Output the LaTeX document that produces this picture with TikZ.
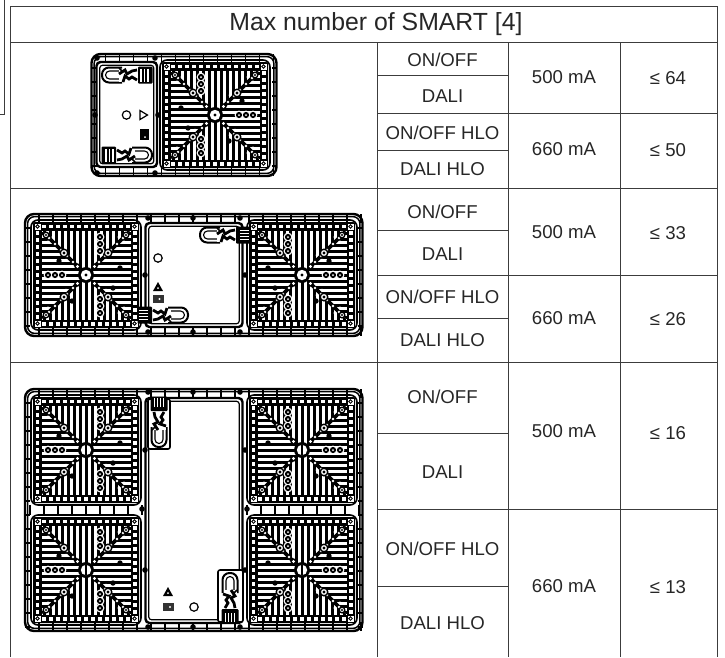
\documentclass[tikz,border=0pt]{standalone}
\usepackage{fontspec}
\setmainfont{Liberation Sans}
\definecolor{rule}{HTML}{3C3C3C}
\tikzset{
  tbl/.style={draw=rule,line width=1pt},
  cell/.style={inner sep=0pt,font=\fontsize{18.6}{20}\selectfont,text=black!85},
  pin/.style={fill=black,radius=2.8},
}
% one hatched lamp panel: centre x, centre y, mirror, hub type
\newcommand\lamppanel[4]{%
\begin{scope}[shift={(#1,#2)},xscale=#3]
  \draw[line width=1.6pt,rounded corners=7] (-55,-55) rectangle (55,55);
  \fill[black,rounded corners=2] (-53,-53) rectangle (53,53);
  \fill[white] (-44.5,-44.5) rectangle (44.5,44.5);
  \foreach \k in {-6,...,6}{
    \fill[white] (\k*7-1.7,-50.5) rectangle (\k*7+1.7,-47);
    \fill[white] (\k*7-1.7,50.5) rectangle (\k*7+1.7,47);
    \fill[white] (-50.5,\k*7-1.7) rectangle (-47,\k*7+1.7);
    \fill[white] (50.5,\k*7-1.7) rectangle (47,\k*7+1.7);
  }
  \begin{scope}
    \clip (0,0)--(-45,-45)--(45,-45)--(0,0)--(45,45)--(-45,45)--cycle;
    \foreach \k in {-7,...,7}
      \draw[line width=3pt] (\k*6,-45)--(\k*6,45);
  \end{scope}
  \begin{scope}
    \clip (0,0)--(-45,-45)--(-45,45)--(0,0)--(45,45)--(45,-45)--cycle;
    \foreach \k in {-7,...,7}
      \draw[line width=3pt] (-45,\k*6)--(45,\k*6);
  \end{scope}
  \foreach \sx in {-1,1}\foreach \sy in {-1,1}{
    \draw[line width=3.6pt] (\sx*8,\sy*8)--(\sx*42,\sy*42);
    \foreach \d in {13,19,...,38}{
      \fill[white] (\sx*\d,\sy*\d) circle (1.3);
    }
    \fill[white] (\sx*33,\sy*38) circle (1.6);
    \fill[white] (\sx*38,\sy*33) circle (1.6);
    \fill[white] (\sx*15,\sy*20) circle (1.5);
    \fill[white] (\sx*20,\sy*15) circle (1.5);
    \fill[black] (\sx*8.5,\sy*8.5) circle (3.2);
    \fill[white] (\sx*8.5,\sy*8.5) circle (1.6);
    \filldraw[fill=white,line width=1.4pt] (\sx*22,\sy*22) circle (3.8);
    \fill[black] (\sx*22,\sy*22) circle (1.7);
    \filldraw[fill=white,line width=1.3pt] (\sx*40,\sy*40) circle (2.8);
    \fill[black] (\sx*40,\sy*40) circle (1.1);
    \filldraw[fill=white,line width=1pt] (\sx*45,\sy*45) rectangle (\sx*52,\sy*52);
    \draw[line width=.8pt] (\sx*48.5,\sy*48.5) circle (1.8);
  }
  \foreach \d in {24,31,38}{
    \fill[white] (14,-\d) circle (4.4); \fill[white] (14,\d) circle (4.4);
    \fill[white] (-\d,0) circle (4.4);
  }
  \foreach \d in {24,31,38}{
    \fill[black] (14,-\d) circle (3.1); \fill[black] (14,\d) circle (3.1);
    \fill[black] (-\d,0) circle (3.1);
    \fill[white] (14,-\d) circle (1); \fill[white] (14,\d) circle (1);
    \fill[white] (-\d,0) circle (1);
  }
  \fill[black] (-27,-14) circle (2.7); \fill[black] (-14,26) circle (2.7);
  \fill[black] (34,-7) circle (2.7);  \fill[black] (27,13) circle (2.7);
  \fill[black] (0,0) circle (8);
  \fill[white] (0,0) circle (5.2);
  \ifnum#4=1 \fill[black] (0,0) circle (1.6);\else
    \fill[black] (-1.2,-5) rectangle (1.2,5);\fi
\end{scope}}
% outer rim with ticks: x1 y1 x2 y2
\newcommand\lamprim[4]{%
  \draw[line width=2.4pt,fill=white,rounded corners=9] (#1,#2) rectangle (#3,#4);
  \draw[line width=1.5pt,rounded corners=7] (#1+2.6,#2+2.6) rectangle (#3-2.6,#4-2.6);
  \pgfmathsetmacro\rimw{#3-#1}
  \pgfmathsetmacro\rimh{#4-#2}
  \foreach \k in {14,28,...,\rimw}{
    \draw[line width=1.6pt] (#1+\k,#2) -- (#1+\k,#2+9);
    \draw[line width=1.6pt] (#1+\k,#4) -- (#1+\k,#4-9);
  }
  \foreach \k in {14,28,...,\rimh}{
    \draw[line width=1.4pt] (#1,#2+\k) -- (#1+5,#2+\k);
    \draw[line width=1.4pt] (#3,#2+\k) -- (#3-5,#2+\k);
  }
}
% white box: x1 y1 x2 y2
\newcommand\lampbox[4]{%
  \draw[line width=2.4pt,fill=white,rounded corners=4] (#1,#2) rectangle (#3,#4);
  \draw[line width=1.2pt,rounded corners=3] (#1+3.2,#2+3.2) rectangle (#3-3.2,#4-3.2);
}
% cable gland and loop: base x, base y, rotation, bar type
\newcommand\lampgland[4]{%
\begin{scope}[shift={(#1,#2)},rotate=#3]
  \draw[line width=2pt,rounded corners=7] (-16,-7.5)--(-36,-7.5)--(-36,7.5)--(-16,7.5);
  \draw[line width=1.1pt,rounded corners=4] (-16,-4)--(-32.5,-4)--(-32.5,4)--(-16,4);
  \fill[white] (-19,-6.5) rectangle (0,6.5);
  \draw[line width=2.8pt] (-19,-1)--(-13,-5)--(-11,-1)--(-6,-4)--(-1,-5);
  \draw[line width=2.8pt] (-15,7)--(-13,1)--(-9,4)--(-6,2)--(-1,5);
  \draw[line width=1.5pt] (-19,-7)--(-15,-3);
  \fill[black,rounded corners=1] (0,-8.5) rectangle (14.5,8.5);
  \ifnum#4=1
    \foreach \k in {3,6.5,10}
      \draw[white,line width=1.5pt] (\k,-6.5)--(\k,6.5);
  \else
    \foreach \k in {-4.5,-1.5,1.5,4.5}
      \draw[white,line width=1.2pt] (4,\k)--(13,\k);
  \fi
\end{scope}}
\begin{document}
\begin{tikzpicture}[x=1pt,y=-1pt]
\useasboundingbox (0,0) rectangle (725,657);
% left-hand stub
\draw[tbl] (4.6,0)--(4.6,114)--(0,114);
% table rules
\draw[tbl] (10,657)--(10,6)--(717.5,6)--(717.5,657);
\draw[tbl] (10,42)--(717.5,42);
\draw[tbl] (10,188)--(717.5,188);
\draw[tbl] (10,362)--(717.5,362);
\draw[tbl] (377,113)--(717.5,113);
\draw[tbl] (377,275)--(717.5,275);
\draw[tbl] (377,509)--(717.5,509);
\foreach \lx in {377,508,620} \draw[tbl] (\lx,42)--(\lx,657);
\foreach \ly in {75,150,230,318,433,586} \draw[tbl] (377,\ly)--(508,\ly);
% row 1 luminaire
\lamprim{91.5}{54}{276.5}{176}
\lamppanel{215}{115}{-1}{1}
\lampbox{96.5}{62}{157}{167}
\foreach \px/\py in {97/58,155/58,97/173,155/173,95/115,158/115} \fill[pin] (\px,\py) circle;
\lampgland{138}{75}{0}{1}
\lampgland{116}{155}{180}{1}
\draw[line width=1.2pt] (126.5,115) circle (4.2);
\draw[line width=1.2pt,fill=white] (140,110.5)--(147.5,115)--(140,119.5)--cycle;
\fill[black] (139.5,129) rectangle (148.5,140);
\fill[white] (145,137) circle (1);
% row 2 luminaire
\lamprim{25}{214}{362.5}{336}
\lamppanel{86}{275}{1}{1}
\lamppanel{302}{275}{-1}{1}
\lampbox{145.5}{223}{242.5}{327}
\foreach \px/\py in {148/218,193/218,240/218,148/332,193/332,240/332,145/275,245/275} \fill[pin] (\px,\py) circle;
\lampgland{236}{235}{0}{2}
\lampgland{152}{315}{180}{2}
\draw[line width=1.2pt] (158,258) circle (4.2);
\fill[black] (153,291)--(158,282)--(163,291)--cycle;
\fill[white] (158,288) circle (1);
\fill[black!80] (152.5,295) rectangle (163.5,303);
\fill[white] (159.5,299) circle (1.2);
% row 3 luminaire
\lamprim{25}{389}{362.5}{631}
\lamppanel{86}{450}{1}{2}
\lamppanel{302}{450}{-1}{2}
\lamppanel{86}{570}{1}{2}
\lamppanel{302}{570}{-1}{2}
\foreach \tx in {30,44,...,142} \draw[line width=1.6pt] (\tx,505)--(\tx,515);
\foreach \tx in {247,261,...,359} \draw[line width=1.6pt] (\tx,505)--(\tx,515);
\lampbox{145.5}{398}{242.5}{623}
\foreach \px/\py in {148/392,193/392,240/392,148/627,193/627,240/627,145/450,245/450,145/570,245/570,142/509,247/509} \fill[pin] (\px,\py) circle;
\draw[line width=1.6pt,fill=white,rounded corners=2] (148,399) rectangle (170,449);
\draw[line width=1.6pt,fill=white,rounded corners=2] (218,570) rectangle (243,622);
\lampgland{159}{411}{90}{2}
\lampgland{230}{609}{-90}{2}
\fill[black] (163,596)--(168,587)--(173,596)--cycle;
\fill[white] (168,593) circle (1);
\fill[black!80] (162.5,603) rectangle (174,611);
\fill[white] (170,607) circle (1.2);
\draw[line width=1.2pt] (194,607) circle (4.2);
% text
\node[cell,font=\fontsize{24.8}{26}\selectfont] (title) at (376,24) {Max number of SMART [4]};
\node[cell] (a1) at (442.5,60) {ON/OFF};
\node[cell] (a2) at (442.5,96) {DALI};
\node[cell] (a3) at (442.5,133) {ON/OFF HLO};
\node[cell] (a4) at (442.5,169) {DALI HLO};
\node[cell] (a5) at (564,77) {500 mA};
\node[cell] (a6) at (564,149) {660 mA};
\node[cell] (a7) at (668,78) {≤ 64};
\node[cell] (a8) at (668,150) {≤ 50};
\node[cell] (b1) at (442.5,212) {ON/OFF};
\node[cell] (b2) at (442.5,254) {DALI};
\node[cell] (b3) at (442.5,297) {ON/OFF HLO};
\node[cell] (b4) at (442.5,340) {DALI HLO};
\node[cell] (b5) at (564,232) {500 mA};
\node[cell] (b6) at (564,318) {660 mA};
\node[cell] (b7) at (668,233) {≤ 33};
\node[cell] (b8) at (668,319) {≤ 26};
\node[cell] (c1) at (442.5,397) {ON/OFF};
\node[cell] (c2) at (442.5,472) {DALI};
\node[cell] (c3) at (442.5,549) {ON/OFF HLO};
\node[cell] (c4) at (442.5,623) {DALI HLO};
\node[cell] (c5) at (564,431) {500 mA};
\node[cell] (c6) at (564,586) {660 mA};
\node[cell] (c7) at (668,433) {≤ 16};
\node[cell] (c8) at (668,587) {≤ 13};
\end{tikzpicture}
\end{document}
